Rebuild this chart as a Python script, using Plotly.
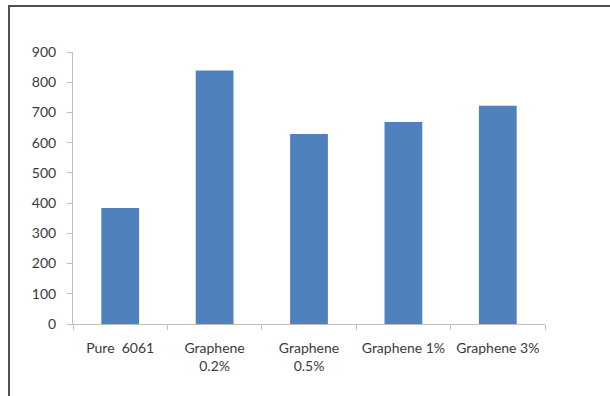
import plotly.graph_objects as go

# Hardness-style values per alloy composition
categories = ["Pure  6061", "Graphene<br>0.2%", "Graphene<br>0.5%", "Graphene 1%", "Graphene 3%"]
values = [384, 839, 629, 668, 722]
y_ticks = [0, 100, 200, 300, 400, 500, 600, 700, 800, 900]

W, H = 610, 396
ML, MR, MT, MB = 73, 65, 52, 72
pw = W - ML - MR
ph = H - MT - MB

def px_x(p):
    return (p - ML) / pw

def px_y(p):
    return 1 - (p - MT) / ph

fig = go.Figure(
    go.Bar(
        x=categories,
        y=values,
        marker=dict(color="#4f81bd", line=dict(width=0)),
    )
)

axis_col = "#bfbfbf"
font_col = "#3a3a3a"
fsize = 14

fig.update_layout(
    width=W,
    height=H,
    margin=dict(l=ML, r=MR, t=MT, b=MB, pad=0, autoexpand=False),
    paper_bgcolor="white",
    plot_bgcolor="white",
    bargap=0.6,
    showlegend=False,
    font=dict(family="Lato, Open Sans, sans-serif", size=fsize, color=font_col),
    xaxis=dict(
        showline=True,
        linecolor=axis_col,
        linewidth=1,
        ticks="outside",
        tickson="boundaries",
        ticklen=5,
        tickcolor=axis_col,
        showgrid=False,
        tickangle=0,
        automargin=False,
        ticklabelstandoff=11,
        tickfont=dict(size=fsize, color=font_col),
    ),
    yaxis=dict(
        range=[0, 900],
        tickvals=y_ticks,
        showline=True,
        linecolor=axis_col,
        linewidth=1,
        ticks="outside",
        ticklen=5,
        tickcolor=axis_col,
        showgrid=False,
        zeroline=False,
        automargin=False,
        ticklabelstandoff=8,
        tickfont=dict(size=fsize, color=font_col),
    ),
    shapes=[
        # frame: top edge and left edge
        dict(type="line", xref="paper", yref="paper",
             x0=px_x(8), x1=px_x(610), y0=px_y(6), y1=px_y(6),
             line=dict(color="#505050", width=2)),
        dict(type="line", xref="paper", yref="paper",
             x0=px_x(9), x1=px_x(9), y0=px_y(6), y1=px_y(396),
             line=dict(color="#505050", width=2)),
    ],
)

fig.write_html("out.html")
